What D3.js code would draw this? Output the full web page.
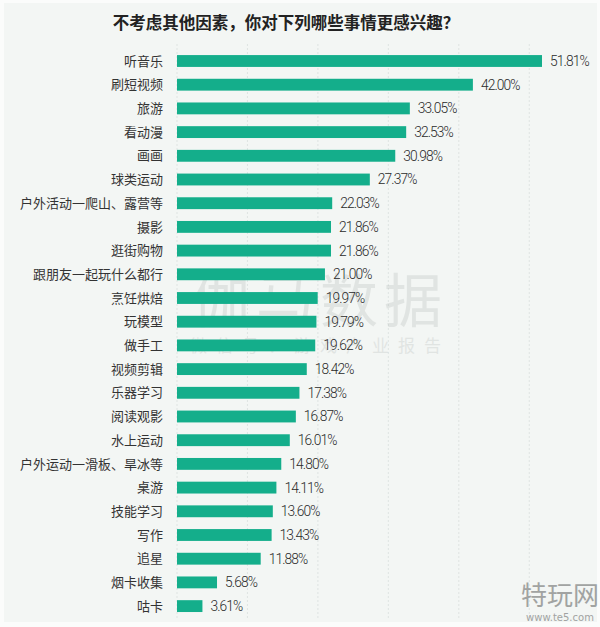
<!DOCTYPE html>
<html><head><meta charset="utf-8">
<script src="https://cdn.jsdelivr.net/npm/d3@7"></script>
<style>
html,body{margin:0;padding:0;background:#ffffff;}
svg{display:block;}
</style></head>
<body>
<svg id="chart" width="600" height="627"></svg>
<script>
const categories = ["听音乐","刷短视频","旅游","看动漫","画画","球类运动","户外活动一爬山、露营等","摄影","逛街购物","跟朋友一起玩什么都行","烹饪烘焙","玩模型","做手工","视频剪辑","乐器学习","阅读观影","水上运动","户外运动一滑板、旱冰等","桌游","技能学习","写作","追星","烟卡收集","咕卡"];
const values = [51.81,42.00,33.05,32.53,30.98,27.37,22.03,21.86,21.86,21.00,19.97,19.79,19.62,18.42,17.38,16.87,16.01,14.80,14.11,13.60,13.43,11.88,5.68,3.61];
const gridTicks = [0,10,20,30,40,50];
const title = "不考虑其他因素，你对下列哪些事情更感兴趣？";

const svg = d3.select("#chart");
const W = 600, H = 627;
svg.append("rect").attr("width",W).attr("height",H).attr("fill","#fbfcfb");
svg.append("rect").attr("x",4).attr("y",3).attr("width",593).attr("height",619).attr("fill","#f3f6f4");

const x = d3.scaleLinear().domain([0,60]).range([177,599.7]);
const step = 23.7;
const y = d3.scaleBand().domain(categories).range([61-step/2, 61-step/2+categories.length*step]).paddingInner(0.5).paddingOuter(0.25);

// grid
svg.append("g").selectAll("line").data(gridTicks).join("line")
  .attr("x1",d=>x(d)).attr("x2",d=>x(d)).attr("y1",44).attr("y2",620)
  .attr("stroke","#dfe4e2").attr("stroke-width",1).attr("stroke-dasharray","2,2");

// watermark
const wm = svg.append("g").attr("fill","#9aa09e").attr("opacity",0.2).attr("font-family","'Noto Sans CJK SC'");
wm.append("text").attr("x",320).attr("y",322).attr("text-anchor","middle").attr("font-size",58).attr("letter-spacing",6).text("伽马数据");
wm.append("text").attr("x",320).attr("y",352).attr("text-anchor","middle").attr("font-size",17).attr("letter-spacing",9).text("微信号：游戏产业报告");

// bars
svg.append("g").selectAll("rect").data(values).join("rect")
  .attr("x",x(0)).attr("y",(d,i)=>y(categories[i]))
  .attr("width",d=>x(d)-x(0)).attr("height",y.bandwidth())
  .attr("fill","#14ae8b");

// category labels
svg.append("g").selectAll("text").data(categories).join("text")
  .attr("x",163).attr("y",d=>y(d)+y.bandwidth()/2).attr("dy","0.36em")
  .attr("text-anchor","end").attr("font-family","'Noto Sans CJK SC'").attr("font-size",13)
  .attr("fill","#333").text(d=>d);

// value labels
svg.append("g").selectAll("text").data(values).join("text")
  .attr("x",d=>x(d)+8).attr("y",(d,i)=>y(categories[i])+y.bandwidth()/2).attr("dy","0.36em")
  .attr("font-family","Roboto, sans-serif").attr("font-weight",300).attr("font-size",13.8).attr("letter-spacing",-0.9)
  .attr("fill","#2a2a2a").text(d=>d.toFixed(2)+"%");

// title
svg.append("text").attr("x",286).attr("y",29).attr("text-anchor","middle")
  .attr("font-family","'Noto Sans CJK SC'").attr("font-weight","bold").attr("font-size",16.5)
  .attr("fill","#222").text(title);

// logo
const lg = svg.append("g").attr("fill","#8d8f8e").attr("opacity",0.8);
lg.append("text").attr("x",560).attr("y",605).attr("text-anchor","middle").attr("font-family","'Noto Sans CJK SC'").attr("font-size",26).text("特玩网");
lg.append("text").attr("x",560).attr("y",621).attr("text-anchor","middle").attr("font-family","'DejaVu Sans'").attr("font-size",10).text("www.te5.com");
</script>
</body></html>
